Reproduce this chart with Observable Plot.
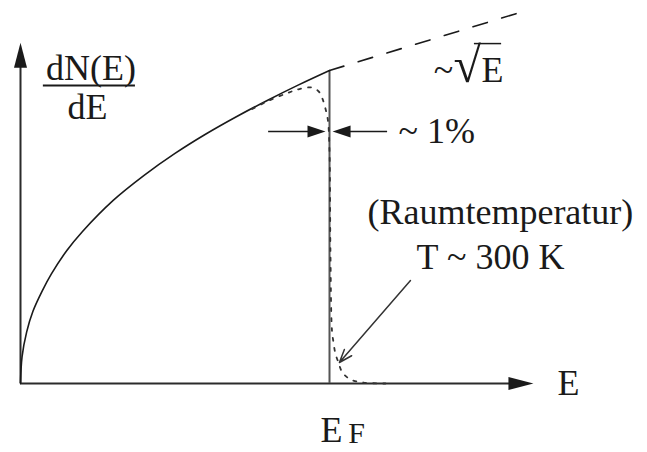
<!DOCTYPE html>
<html>
<head>
<meta charset="utf-8">
<script src="https://cdn.jsdelivr.net/npm/d3@7"></script>
<script src="https://cdn.jsdelivr.net/npm/@observablehq/plot@0.6"></script>
<style>
  html, body { margin: 0; padding: 0; background: #ffffff; }
  #chart svg { display: block; }
  #chart svg text { font-family: "Liberation Serif", "Times New Roman", serif; }
</style>
</head>
<body>
<div id="chart"></div>
<script>
// Density of states of a free electron gas, in units where E_F = 1 and dN/dE(E_F) = 1.
const energy = [0, 0.005, 0.02, 0.04, 0.07, 0.1, 0.15, 0.2, 0.3, 0.4, 0.5, 0.6, 0.7, 0.8, 0.9, 1.0];
const dos    = [0, 0.085, 0.165, 0.23, 0.295, 0.35, 0.425, 0.485, 0.585, 0.665, 0.735, 0.797, 0.853, 0.905, 0.954, 1.0];

// Unoccupied continuation above the Fermi energy (dashed).
const extEnergy = [1.0, 1.625];
const extDos    = [1.0, 1.188];

// Occupied states at room temperature (dotted, Fermi-smeared edge).
const fermiEnergy = [0.75, 0.80, 0.864, 0.90, 0.939, 0.964, 0.977, 0.987, 0.995, 1.0, 1.003, 1.008, 1.013, 1.019, 1.029, 1.042, 1.068, 1.110, 1.181];
const fermiDos    = [0.877, 0.902, 0.928, 0.940, 0.946, 0.934, 0.910, 0.878, 0.840, 0.744, 0.425, 0.169, 0.131, 0.096, 0.067, 0.035, 0.013, 0.003, 0];

const fermiLevel = [1.0];

// Text labels
const yLabelTop = "dN(E)";
const yLabelBottom = "dE";
const xLabel = "E";
const fermiLabel = "E";
const fermiSub = "F";
const sqrtLabel = ["~", "√", "E"];
const widthLabel = "~ 1%";
const tempLabel = ["(Raumtemperatur)", "T ~ 300 K"];

const zip = (xs, ys) => xs.map((x, i) => ({x, y: ys[i]}));

// Filled arrowhead with its tip at the origin, pointing in direction (dx, dy).
function head(len, half, dx, dy) {
  return {
    draw(ctx) {
      const px = -dy, py = dx;
      ctx.moveTo(0, 0);
      ctx.lineTo(-dx * len + px * half, -dy * len + py * half);
      ctx.lineTo(-dx * len - px * half, -dy * len - py * half);
      ctx.closePath();
    }
  };
}

const ink = "#1a1a1a";
const serif = "'Liberation Serif', 'Times New Roman', serif";
const fs = 36;
const label = (t, x, y, opts = {}) =>
  Plot.text([t], {x, y, text: d => d, fontSize: fs, fontFamily: serif, fill: ink, ...opts});

const xTip = 1.660, yTip = 1.089;

const chart = Plot.plot({
  width: 647,
  height: 452,
  margin: 0,
  style: {background: "#ffffff", overflow: "hidden", fontFamily: serif},
  x: {domain: [0, 1], range: [20, 329], axis: null},
  y: {domain: [0, 1], range: [383, 70], axis: null},
  marks: [
    // axes
    Plot.ruleY([0], {x1: 0, x2: xTip - 0.04, stroke: "#2b2b2b", strokeWidth: 2}),
    Plot.ruleX([0], {y1: 0, y2: yTip - 0.04, stroke: "#2b2b2b", strokeWidth: 2}),
    Plot.dot([0], {x: xTip, y: 0, r: 5, symbol: head(25, 6.5, 1, 0), fill: ink, stroke: "none"}),
    Plot.dot([0], {x: 0, y: yTip, r: 5, symbol: head(25, 6.5, 0, -1), fill: ink, stroke: "none"}),

    // Fermi level
    Plot.ruleX(fermiLevel, {y1: 0, y2: 1, stroke: "#555", strokeWidth: 2}),

    // T = 0 density of occupied states
    Plot.line(zip(energy, dos), {x: "x", y: "y", curve: "catmull-rom", stroke: ink, strokeWidth: 1.6}),
    // continuation above E_F
    Plot.line(zip(extEnergy, extDos), {x: "x", y: "y", stroke: ink, strokeWidth: 1.6, strokeDasharray: "15,15"}),
    // room temperature occupation
    Plot.line(zip(fermiEnergy, fermiDos), {x: "x", y: "y", curve: "catmull-rom", stroke: "#333", strokeWidth: 1.8, strokeDasharray: "3,7"}),

    // width marker (~1%)
    Plot.ruleY([0.805], {x1: 0.803, x2: 0.95, stroke: ink, strokeWidth: 1.5}),
    Plot.dot([0], {x: 0.987, y: 0.805, r: 5, symbol: head(18, 6, 1, 0), fill: ink, stroke: "none"}),
    Plot.ruleY([0.805], {x1: 1.05, x2: 1.188, stroke: ink, strokeWidth: 1.5}),
    Plot.dot([0], {x: 1.010, y: 0.805, r: 5, symbol: head(18, 6, -1, 0), fill: ink, stroke: "none"}),
    label(widthLabel, 1.223, 0.804, {textAnchor: "start"}),

    // y label as a fraction
    label(yLabelTop, 0.228, 1.005),
    Plot.ruleY([0.952], {x1: 0.074, x2: 0.372, stroke: ink, strokeWidth: 2}),
    label(yLabelBottom, 0.217, 0.883),

    // ~ sqrt(E)
    label(sqrtLabel[0], 1.337, 1.0, {textAnchor: "start"}),
    label(sqrtLabel[1], 1.401, 1.013, {textAnchor: "start", fontSize: 50}),
    Plot.ruleY([1.086], {x1: 1.469, x2: 1.557, stroke: ink, strokeWidth: 1.5}),
    label(sqrtLabel[2], 1.492, 1.0, {textAnchor: "start"}),

    // room temperature annotation
    label(tempLabel[0], 1.553, 0.548),
    label(tempLabel[1], 1.521, 0.404),
    Plot.arrow([0], {x1: 1.262, y1: 0.329, x2: 1.032, y2: 0.067, stroke: "#333", strokeWidth: 1.5, headLength: 14, headAngle: 40}),

    // axis labels
    label(xLabel, 1.738, 0, {textAnchor: "start"}),
    label(fermiLabel, 0.971, -0.149, {textAnchor: "start"}),
    label(fermiSub, 1.061, -0.158, {textAnchor: "start", fontSize: 30})
  ]
});

document.getElementById("chart").appendChild(chart);
</script>
</body>
</html>
